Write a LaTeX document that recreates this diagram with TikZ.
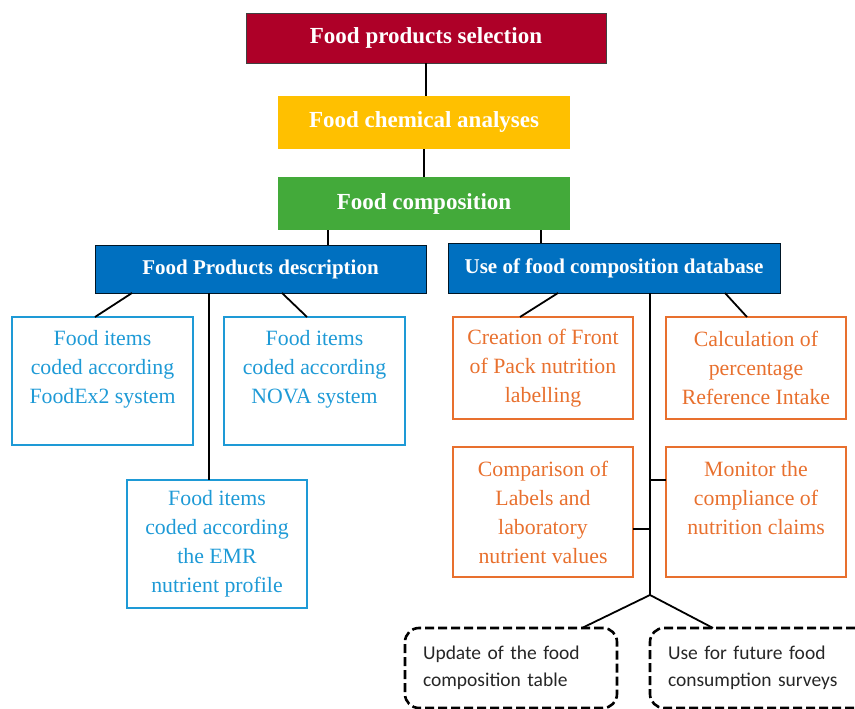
\documentclass[tikz,border=0pt]{standalone}
\usepackage{fontspec}
\setmainfont{Liberation Serif}
\newfontfamily\calibrifont{Carlito}

\definecolor{selred}{HTML}{AE0028}
\definecolor{chemyellow}{HTML}{FFC000}
\definecolor{compgreen}{HTML}{43AA3A}
\definecolor{dbblue}{HTML}{0070C0}
\definecolor{itemblue}{HTML}{1E9AD6}
\definecolor{useorange}{HTML}{E8702E}

\tikzset{
  headbox/.style={fill=#1, text=white, inner sep=0pt, outer sep=0pt,
    font=\fontsize{23}{26}\selectfont\bfseries},
  dbbox/.style={headbox=dbblue, draw=black!80!dbblue, line width=0.8pt,
    font=\fontsize{21}{26}\selectfont\bfseries},
  itembox/.style={draw=itemblue, text=itemblue, line width=1.5pt, align=center,
    inner sep=0pt, outer sep=0pt, font=\fontsize{21.8}{29}\selectfont},
  usebox/.style={itembox, draw=useorange, text=useorange},
  futurebox/.style={draw=black, line width=2.6pt, dash pattern=on 9pt off 4pt,
    rounded corners=14pt, text=black!85, text width=#1, inner xsep=18pt,
    minimum height=80pt, align=left, outer sep=0pt,
    font=\calibrifont\fontsize{19.5}{27}\selectfont},
  futurebox/.default=176pt,
  link/.style={line width=1.8pt}
}

\begin{document}
\begin{tikzpicture}[x=1pt,y=-1pt]
    \clip (0,0) rectangle (855,709);

    \node[headbox=selred, draw=black!75, line width=0.8pt, minimum width=360pt, minimum height=50pt]
      (select) at (426,38) {Food products selection};
    \node[headbox=chemyellow, minimum width=292pt, minimum height=53pt]
      (chem) at (424,122.5) {Food chemical analyses};
    \node[headbox=compgreen, minimum width=292pt, minimum height=53pt]
      (comp) at (424,203.5) {Food composition};

    \node[dbbox, minimum width=331pt, minimum height=48pt] (desc) at (260.5,269) {Food Products description};
    \node[dbbox, minimum width=332pt, minimum height=50pt] (usedb) at (614,268) {Use of food composition database};

    \node[itembox, minimum width=181pt, minimum height=128pt] (foodex) at (102.5,381)
      {Food items\\coded according\\FoodEx2 system\\\mbox{}};
    \node[itembox, minimum width=181pt, minimum height=128pt] (nova) at (314.5,381)
      {Food items\\coded according\\NOVA system\\\mbox{}};
    \node[itembox, minimum width=180pt, minimum height=128pt] (emr) at (217,544)
      {Food items\\coded according\\the EMR\\nutrient profile};

    \node[usebox, minimum width=180pt, minimum height=102pt] (fop) at (543,368)
      {Creation of Front\\of Pack nutrition\\labelling};
    \node[usebox, minimum width=180pt, minimum height=102pt] (intake) at (756,368)
      {Calculation of\\percentage\\Reference Intake};
    \node[usebox, minimum width=180pt, minimum height=130pt] (labels) at (543,512)
      {Comparison of\\Labels and\\laboratory\\nutrient values};
    \node[usebox, minimum width=180pt, minimum height=130pt] (claims) at (756,512)
      {Monitor the\\compliance of\\nutrition claims\\\mbox{}};

    \coordinate (split) at (650,595);
    \node[futurebox] (update) at (511,668) {Update of the food\\composition table};
    \node[futurebox=196pt] (surveys) at (766,668) {Use for future food\\consumption surveys};

    \draw[link] (select.south) -- (select.south |- chem.north);
    \draw[link] (chem.south) -- (chem.south |- comp.north);
    \draw[link] ([xshift=-96pt]comp.south) -- ([xshift=-96pt]comp.south |- desc.north);
    \draw[link] ([xshift=117pt]comp.south) -- ([xshift=117pt]comp.south |- usedb.north);

    \draw[link] ([xshift=-128.5pt]desc.south) -- ([xshift=-7.5pt]foodex.north);
    \draw[link] ([xshift=-51.5pt]desc.south) -- ([xshift=-8pt]emr.north);
    \draw[link] ([xshift=21.5pt]desc.south) -- ([xshift=-7.5pt]nova.north);

    \draw[link] ([xshift=-56pt]usedb.south) -- ([xshift=-23pt]fop.north);
    \draw[link] ([xshift=111pt]usedb.south) -- ([xshift=-9pt]intake.north);
    \draw[link] (usedb.south -| split) -- (split);
    \draw[link] ([yshift=32pt]claims.west) -- ([yshift=32pt]claims.west -| split);
    \draw[link] ([yshift=-17pt]labels.east) -- ([yshift=-17pt]labels.east -| split);

    \draw[link] ([xshift=71pt]update.north) -- (split) -- ([xshift=-53pt]surveys.north);

\end{tikzpicture}
\end{document}
